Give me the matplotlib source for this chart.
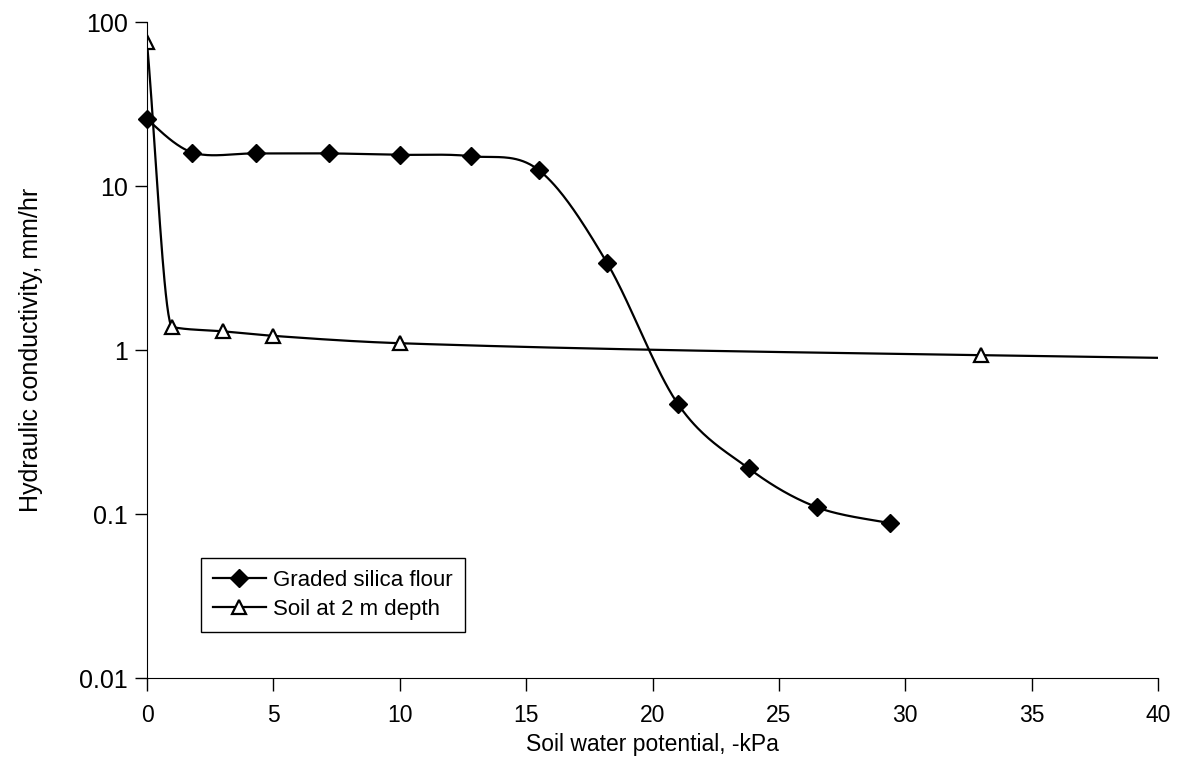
import numpy as np
import matplotlib
matplotlib.use('Agg')
import matplotlib.pyplot as plt

plt.rcParams['font.family'] = ['Liberation Sans', 'DejaVu Sans']

# Graded silica flour
silica_x = [0, 1.8, 4.3, 7.2, 10, 12.8, 15.5, 18.2, 21, 23.8, 26.5, 29.4]
silica_k = [25.5, 16, 15.8, 15.8, 15.5, 15.2, 12.5, 3.4, 0.47, 0.19, 0.11, 0.088]

# Soil at 2 m depth (last point lies beyond the plotted range)
soil_x = [0, 1, 3, 5, 10, 33, 100]
soil_k = [75, 1.38, 1.3, 1.22, 1.1, 0.93, 0.7]

x_ticks = [0, 5, 10, 15, 20, 25, 30, 35, 40]
y_ticks = [0.01, 0.1, 1, 10, 100]
y_ticklabels = ['0.01', '0.1', '1', '10', '100']

SX, SY = 1012 / 40.0, 164.0   # rough pixels per unit / per decade


def smooth(x, y, n=40):
    # Excel-like smoothed line: Bezier through points in screen-like units
    P = np.column_stack([np.asarray(x, float) * SX, np.log10(y) * SY])
    out = []
    t = np.linspace(0, 1, n)[:, None]
    for i in range(len(P) - 1):
        p0 = P[i - 1] if i > 0 else P[i]
        p3 = P[i + 2] if i + 2 < len(P) else P[i + 1]
        c1 = P[i] + (P[i + 1] - p0) / 6
        c2 = P[i + 1] - (p3 - P[i]) / 6
        seg = ((1 - t) ** 3) * P[i] + 3 * ((1 - t) ** 2) * t * c1 \
            + 3 * (1 - t) * t ** 2 * c2 + t ** 3 * P[i + 1]
        out.append(seg)
    out = np.vstack(out)
    return out[:, 0] / SX, 10 ** (out[:, 1] / SY)


def smooth_mono(x, y, n=40):
    # monotone cubic (no overshoot) for the sharp-kneed soil curve
    x = np.asarray(x, float)
    ly = np.log10(y)
    h = np.diff(x)
    d = np.diff(ly) / h
    m = np.zeros(len(x))
    m[0], m[-1] = d[0], d[-1]
    for i in range(1, len(x) - 1):
        if d[i - 1] * d[i] > 0:
            w1 = 2 * h[i] + h[i - 1]
            w2 = h[i] + 2 * h[i - 1]
            m[i] = (w1 + w2) / (w1 / d[i - 1] + w2 / d[i])
    xs, ys = [], []
    t = np.linspace(0, 1, n)
    for i in range(len(x) - 1):
        h00 = 2 * t ** 3 - 3 * t ** 2 + 1
        h10 = t ** 3 - 2 * t ** 2 + t
        h01 = -2 * t ** 3 + 3 * t ** 2
        h11 = t ** 3 - t ** 2
        xs.append(x[i] + t * h[i])
        ys.append(h00 * ly[i] + h10 * h[i] * m[i] + h01 * ly[i + 1]
                  + h11 * h[i] * m[i + 1])
    return np.concatenate(xs), 10 ** np.concatenate(ys)


fig = plt.figure(figsize=(11.8, 7.76), dpi=100)
ax = fig.add_axes([147 / 1180, 1 - 678 / 776, 1011 / 1180, 656 / 776])

sxs, sys_ = smooth(silica_x, silica_k)
ax.plot(sxs, sys_, color='black', lw=1.6)
ax.plot(silica_x, silica_k, linestyle='none', marker='D', ms=9,
        mfc='black', mec='black', clip_on=False)

tx, ty = smooth_mono(soil_x, soil_k)
ax.plot(tx, ty, color='black', lw=1.6)
ax.plot(soil_x, soil_k, linestyle='none', marker='^', ms=10,
        mfc='white', mec='black', mew=1.6, clip_on=True)

# legend proxies
h1, = ax.plot([], [], color='black', lw=1.6, marker='D', ms=9, mfc='black')
h2, = ax.plot([], [], color='black', lw=1.6, marker='^', ms=10,
              mfc='white', mew=1.6)
leg = ax.legend([h1, h2], ['Graded silica flour', 'Soil at 2 m depth'],
                loc='upper left', bbox_to_anchor=(0.053, 0.183),
                fancybox=False, edgecolor='black', framealpha=1,
                fontsize=16, handlelength=2.4, borderaxespad=0,
                borderpad=0.55, labelspacing=0.35, handletextpad=0.3)
leg.get_frame().set_linewidth(1.0)

ax.set_yscale('log')
ax.set_xlim(0, 40)
ax.set_ylim(0.01, 100)
ax.set_xticks(x_ticks)
ax.set_xticklabels([str(v) for v in x_ticks], fontsize=16.5)
ax.set_yticks(y_ticks)
ax.set_yticklabels(y_ticklabels, fontsize=18)
ax.yaxis.set_minor_locator(matplotlib.ticker.NullLocator())

ax.spines['top'].set_visible(False)
ax.spines['right'].set_visible(False)
ax.tick_params(axis='both', direction='out', length=9, width=1)
ax.tick_params(axis='x', pad=10)
ax.tick_params(axis='y', pad=5)

ax.set_xlabel('Soil water potential, -kPa', fontsize=16.5, labelpad=4)
ax.set_ylabel('Hydraulic conductivity, mm/hr', fontsize=18, labelpad=26)

fig.savefig('out.png', dpi=100)
